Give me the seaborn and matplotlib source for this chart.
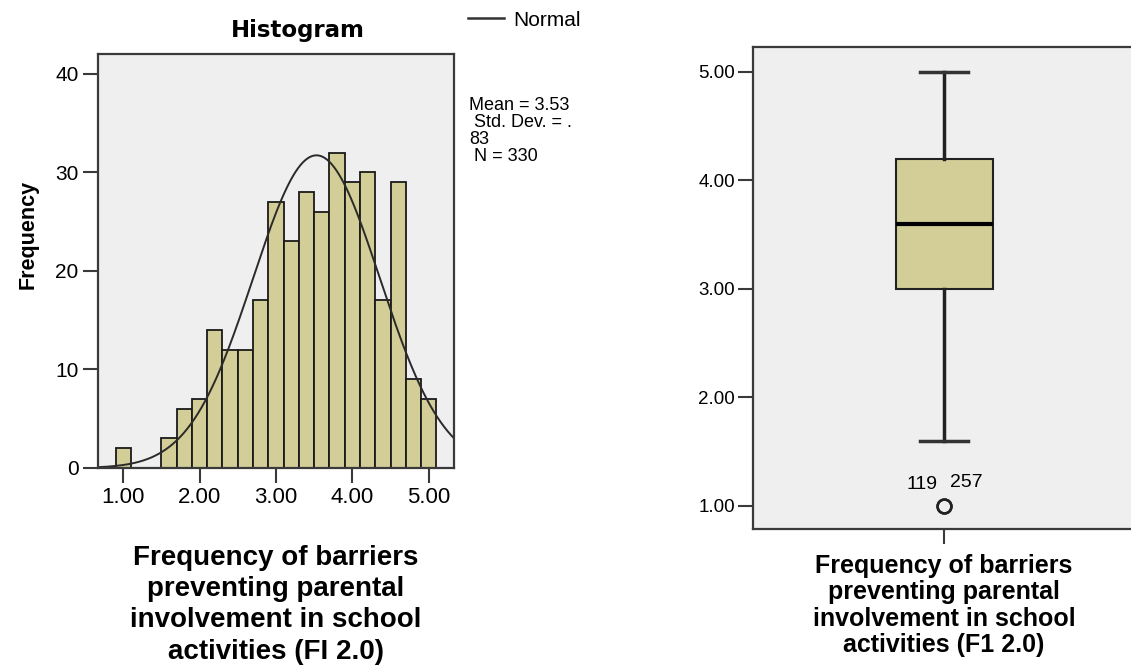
import numpy as np
import pandas as pd
import matplotlib
matplotlib.use('Agg')
import matplotlib.pyplot as plt
import seaborn as sns

# %%
# histogram bins (bin width 0.2)
bin_centers = [1.0, 1.2, 1.4, 1.6, 1.8, 2.0, 2.2, 2.4, 2.6, 2.8, 3.0,
               3.2, 3.4, 3.6, 3.8, 4.0, 4.2, 4.4, 4.6, 4.8, 5.0]
bin_counts = [2, 0, 0, 3, 6, 7, 14, 12, 12, 17, 27,
              23, 28, 26, 32, 29, 30, 17, 29, 9, 7]
bin_width = 0.2

# summary stats printed by SPSS
mean_val = 3.53
std_val = 0.83
n_val = 330

# boxplot summary
box_whislo = 1.60
box_q1 = 3.00
box_med = 3.60
box_q3 = 4.20
box_whishi = 5.00
outlier_vals = [1.00, 1.00]
outlier_ids = ['119', '257']

xlabel_left = 'Frequency of barriers\npreventing parental\ninvolvement in school\nactivities (FI 2.0)'
xlabel_right = 'Frequency of barriers\npreventing parental\ninvolvement in school\nactivities (F1 2.0)'

bar_color = '#d3ce97'
panel_bg = '#efefef'
frame_col = '#3a3a3a'

# %%
plt.rcParams['font.family'] = ['Liberation Sans', 'DejaVu Sans']

fig = plt.figure(figsize=(11.31, 6.66), dpi=100)
ax1 = fig.add_axes([0.0866, 0.2973, 0.3148, 0.6216])
ax2 = fig.add_axes([0.6658, 0.2057, 0.3378, 0.7237])

# left: histogram + normal curve
hist_df = pd.DataFrame({'x': bin_centers, 'n': bin_counts})
sns.histplot(data=hist_df, x='x', weights='n', binwidth=bin_width,
             binrange=(bin_centers[0] - bin_width / 2, bin_centers[-1] + bin_width / 2), ax=ax1,
             color=bar_color, edgecolor='#1a1a1a', linewidth=1.3, alpha=1)

xs = np.linspace(0.67, 5.33, 300)
ys = n_val * bin_width * np.exp(-0.5 * ((xs - mean_val) / std_val) ** 2) / (std_val * np.sqrt(2 * np.pi))
sns.lineplot(x=xs, y=ys, ax=ax1, color='#2a2a2a', linewidth=1.4)

ax1.set_facecolor(panel_bg)
ax1.set_xlim(0.67, 5.33)
ax1.set_ylim(0, 42)
ax1.set_xticks([1, 2, 3, 4, 5])
ax1.set_xticklabels([f'{v:.2f}' for v in [1, 2, 3, 4, 5]], fontsize=16)
ax1.set_yticks([0, 10, 20, 30, 40])
ax1.set_yticklabels(['0', '10', '20', '30', '40'], fontsize=15)
ax1.tick_params(length=11, width=1.5, color=frame_col, pad=3)
ax1.set_xlabel(xlabel_left, fontsize=20, fontweight='bold', labelpad=26, linespacing=1.27)
ax1.set_ylabel('')
for s in ax1.spines.values():
    s.set_color(frame_col)
    s.set_linewidth(1.6)

fig.text(298 / 1131, 1 - 30 / 666, 'Histogram', fontsize=16.5, fontweight='bold',
         family='DejaVu Sans', ha='center', va='center')
fig.text(28 / 1131, 1 - 234 / 666, 'Frequency', fontsize=15.5, fontweight='bold',
         rotation=90, ha='center', va='center')

# legend + stats box
normal_line = plt.Line2D([], [], color='#333333', linewidth=1.8)
fig.legend([normal_line], ['Normal'], loc='center left',
           bbox_to_anchor=(468 / 1131, 1 - 20 / 666), frameon=False, fontsize=15,
           handlelength=1.75, handletextpad=0.4, borderpad=0, borderaxespad=0)
fig.text(469 / 1131, 1 - 97 / 666,
         f'Mean = {mean_val:.2f}\n Std. Dev. = .\n{int(round(std_val * 100))}\n N = {n_val}',
         fontsize=13, ha='left', va='top', linespacing=1.0)

# right: boxplot
box_stats = [{'whislo': box_whislo, 'q1': box_q1, 'med': box_med, 'q3': box_q3,
              'whishi': box_whishi, 'fliers': outlier_vals}]
ax2.bxp(box_stats, positions=[1], widths=0.254, capwidths=0.128, patch_artist=True,
        boxprops=dict(facecolor=bar_color, edgecolor='#222222', linewidth=1.5),
        medianprops=dict(color='black', linewidth=3),
        whiskerprops=dict(color='#222222', linewidth=2.5),
        capprops=dict(color='#333333', linewidth=2.5),
        flierprops=dict(marker='o', markerfacecolor='none', markeredgecolor='#222222',
                        markersize=10, markeredgewidth=1.8))
ax2.annotate(outlier_ids[0], xy=(1, outlier_vals[0]), xytext=(-5, 15), textcoords='offset points',
             ha='right', va='center', fontsize=14)
ax2.annotate(outlier_ids[1], xy=(1, outlier_vals[1]), xytext=(4.3, 16.5), textcoords='offset points',
             ha='left', va='center', fontsize=14)

ax2.set_facecolor(panel_bg)
ax2.set_xlim(0.5, 1.5)
ax2.set_ylim(0.785, 5.23)
ax2.set_xticks([1])
ax2.set_xticklabels([''])
ax2.set_yticks([1, 2, 3, 4, 5])
ax2.set_yticklabels([f'{v:.2f}' for v in [1, 2, 3, 4, 5]], fontsize=13.5)
ax2.tick_params(length=11, width=1.5, color=frame_col, pad=2)
ax2.set_xlabel(xlabel_right, fontsize=18, fontweight='bold', labelpad=5, linespacing=1.12)
for s in ax2.spines.values():
    s.set_color(frame_col)
    s.set_linewidth(1.6)

fig.savefig('out.png', dpi=100)
